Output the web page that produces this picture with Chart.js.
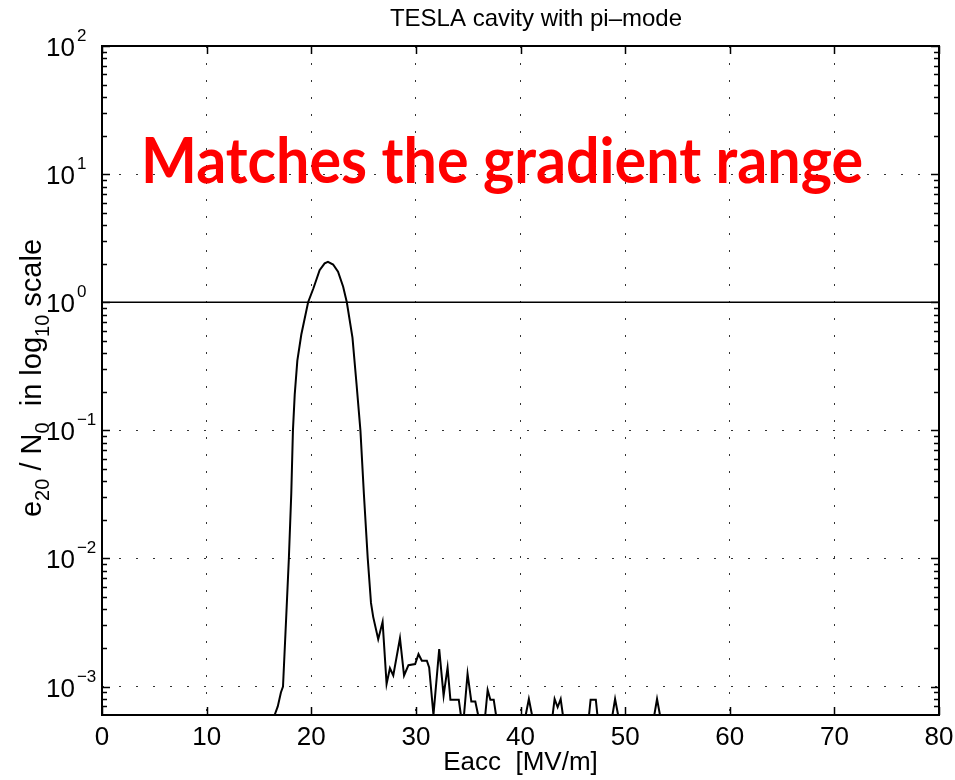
<!DOCTYPE html>
<html><head><meta charset="utf-8">
<script src="https://cdn.jsdelivr.net/npm/chart.js@4.4.1/dist/chart.umd.min.js"></script>
<style>html,body{margin:0;padding:0;background:#fff;}canvas{display:block;}</style>
</head><body>
<canvas id="c" width="955" height="780"></canvas>
<script>
// ---- data ----
const eacc = [16.5, 16.8, 17.1, 17.3, 17.6, 17.86, 18.09, 18.25, 18.42, 18.67, 19.05, 19.7, 20.2, 20.8, 21.28, 21.6, 22.09, 22.56, 23.05, 23.4, 23.94, 24.33, 24.7, 25.03, 25.4, 25.71, 25.92, 26.4, 26.82, 27.2, 27.52, 27.84, 28.48, 28.87, 29.29, 29.93, 30.25, 30.57, 31.05, 31.27, 31.68, 32.23, 32.65, 33.03, 33.3, 33.77, 34.1, 34.3, 34.6, 34.94, 35.3, 35.68, 35.95, 36.63, 36.86, 37.12, 37.44, 37.66, 40.5, 40.8, 41.1, 43.07, 43.26, 43.55, 43.84, 44.05, 46.55, 46.7, 47.2, 47.35, 48.79, 49.04, 49.33, 52.79, 53.05, 53.33, 80];
const ratio = [6.0e-4, 7.0e-4, 9.0e-4, 1.0e-3, 3.4e-3, 1.0e-2, 3.2e-2, 0.1, 0.19, 0.35, 0.56, 1.0, 1.28, 1.78, 2.01, 2.07, 1.97, 1.73, 1.32, 1.0, 0.53, 0.229, 0.1, 0.032, 0.01, 4.5e-3, 3.5e-3, 2.34e-3, 3.2e-3, 1.05e-3, 1.39e-3, 1.22e-3, 2.38e-3, 1.22e-3, 1.47e-3, 1.5e-3, 1.79e-3, 1.59e-3, 1.59e-3, 1.41e-3, 6.0e-4, 1.96e-3, 8.5e-4, 1.41e-3, 7.9e-4, 7.9e-4, 7.9e-4, 6.0e-4, 6.0e-4, 1.26e-3, 7.65e-4, 7.65e-4, 6.0e-4, 6.0e-4, 9.4e-4, 7.9e-4, 7.9e-4, 6.0e-4, 6.0e-4, 8.0e-4, 6.0e-4, 6.0e-4, 8.0e-4, 6.9e-4, 8.0e-4, 6.0e-4, 6.0e-4, 7.9e-4, 7.9e-4, 6.0e-4, 6.0e-4, 8.0e-4, 6.0e-4, 6.0e-4, 8.0e-4, 6.0e-4, 6.0e-4];
const refX = [0, 80];
const refY = [1, 1];
const xTicks = [0, 10, 20, 30, 40, 50, 60, 70, 80];
const yDecades = [-3, -2, -1, 0, 1, 2];
const titleText = 'TESLA cavity with pi\u2013mode';
const xTitle = 'Eacc  [MV/m]';
const noteText = 'Matches the gradient range';
const yMin = 6.3e-4, yMax = 100;

const FONT = "'Liberation Sans', Arial, Helvetica, sans-serif";
const target = {left: 102, right: 939, top: 46, bottom: 715};

function line(ctx, x1, y1, x2, y2) { ctx.beginPath(); ctx.moveTo(x1, y1); ctx.lineTo(x2, y2); ctx.stroke(); }

const decor = {
  id: 'decor',
  afterDraw(chart) {
    const {ctx, chartArea: a, scales: {x, y}} = chart;
    ctx.save();
    ctx.strokeStyle = '#000';
    ctx.fillStyle = '#000';
    // inward ticks on x (bottom and top)
    ctx.lineWidth = 1.5;
    xTicks.forEach(v => {
      const px = Math.round(x.getPixelForValue(v)) + 0.5;
      line(ctx, px, a.bottom, px, a.bottom - 8);
      line(ctx, px, a.top, px, a.top + 8);
    });
    // log ticks on y (left and right)
    for (let d = -4; d <= 2; d++) {
      for (let k = 1; k <= 9; k++) {
        const v = k * Math.pow(10, d);
        if (v < yMin || v > yMax) continue;
        const py = Math.round(y.getPixelForValue(v)) + 0.5;
        const len = k === 1 ? 8 : 5;
        line(ctx, a.left, py, a.left + len, py);
        line(ctx, a.right, py, a.right - len, py);
      }
    }
    // box
    ctx.lineWidth = 2;
    ctx.strokeRect(a.left, a.top, a.right - a.left, a.bottom - a.top);

    // y tick labels 10^n
    ctx.textBaseline = 'alphabetic';
    ctx.textAlign = 'left';
    yDecades.forEach(d => {
      const py = y.getPixelForValue(Math.pow(10, d));
      ctx.font = '26px ' + FONT;
      ctx.fillText('10', 46, py + 10);
      const w = ctx.measureText('10').width;
      ctx.font = '17px ' + FONT;
      ctx.fillText(d < 0 ? '\u2212' + (-d) : String(d), 46 + w + 2, py - 5);
    });

    // title
    ctx.font = '24px ' + FONT;
    ctx.textAlign = 'center';
    ctx.fillText(titleText, 536, 26);

    // y axis title with subscripts
    const parts = [['e', 0], ['20', 1], [' / N', 0], ['0', 1], ['  in log', 0], ['10', 1], [' scale', 0]];
    const big = '29px ' + FONT, small = '20px ' + FONT;
    let total = 0;
    parts.forEach(p => { ctx.font = p[1] ? small : big; total += ctx.measureText(p[0]).width; });
    ctx.save();
    ctx.translate(41, 378);
    ctx.rotate(-Math.PI / 2);
    ctx.textAlign = 'left';
    let cx = -total / 2;
    parts.forEach(p => {
      ctx.font = p[1] ? small : big;
      ctx.fillText(p[0], cx, p[1] ? 8 : 0);
      cx += ctx.measureText(p[0]).width;
    });
    ctx.restore();

    // red annotation
    ctx.font = "700 60px Lato, 'Open Sans', sans-serif";
    ctx.textAlign = 'left';
    const tw = ctx.measureText(noteText).width;
    const capH = ctx.measureText('M').actualBoundingBoxAscent;
    ctx.save();
    ctx.translate(141, 183);
    ctx.scale(722 / tw, 45 / capH);
    ctx.fillStyle = '#ff0000';
    ctx.fillText(noteText, 0, 0);
    ctx.restore();
    ctx.restore();
  }
};

const chart = new Chart(document.getElementById('c'), {
  type: 'scatter',
  data: {
    datasets: [
      {data: eacc.map((v, i) => ({x: v, y: ratio[i]})), showLine: true, borderColor: '#000', borderWidth: 2, pointRadius: 0, tension: 0},
      {data: refX.map((v, i) => ({x: v, y: refY[i]})), showLine: true, borderColor: '#000', borderWidth: 1.5, pointRadius: 0}
    ]
  },
  options: {
    responsive: false,
    animation: false,
    devicePixelRatio: 1,
    layout: {padding: {left: 102, right: 16, top: 46, bottom: 3}},
    plugins: {legend: {display: false}, tooltip: {enabled: false}, title: {display: false}},
    scales: {
      x: {
        type: 'linear', min: 0, max: 80,
        afterBuildTicks: s => { s.ticks = xTicks.map(v => ({value: v})); },
        afterFit: s => { s.paddingLeft = 0; s.paddingRight = 0; },
        ticks: {color: '#000', font: {family: FONT, size: 26, lineHeight: 1.0}, padding: 10, maxRotation: 0, autoSkip: false},
        grid: {color: '#333', lineWidth: 1, drawTicks: false},
        border: {display: false, dash: [2, 15]},
        title: {display: true, text: xTitle, color: '#000', font: {family: FONT, size: 26, lineHeight: 1.0}, padding: {top: -11, bottom: 0}}
      },
      y: {
        type: 'logarithmic', min: yMin, max: yMax,
        afterBuildTicks: s => { s.ticks = yDecades.map(d => ({value: Math.pow(10, d)})); },
        afterFit: s => { s.paddingTop = 0; s.paddingBottom = 0; },
        ticks: {display: false},
        grid: {color: '#333', lineWidth: 1, drawTicks: false},
        border: {display: false, dash: [2, 15]}
      }
    }
  },
  plugins: [decor]
});
// fine-tune padding so the plot box lands where the reference has it
for (let it = 0; it < 2; it++) {
  const ca = chart.chartArea;
  const pad = chart.options.layout.padding;
  pad.left += target.left - ca.left;
  pad.top += target.top - ca.top;
  pad.right += ca.right - target.right;
  pad.bottom += ca.bottom - target.bottom;
  chart.update();
}
</script>
</body></html>
